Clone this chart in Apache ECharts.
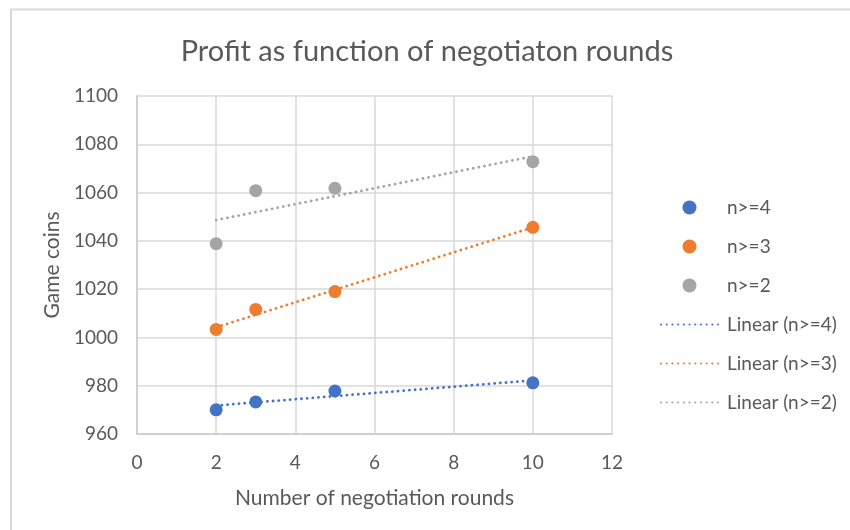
<!DOCTYPE html>
<html>
<head>
<meta charset="utf-8">
<script src="https://cdn.jsdelivr.net/npm/echarts@6/dist/echarts.min.js"></script>
<style>
  html, body { margin: 0; padding: 0; background: #fff; }
  #chart { width: 850px; height: 530px; }
</style>
</head>
<body>
<div id="chart"></div>
<script>
// rounds on x, game coins on y
const rounds = [2, 3, 5, 10]
const coinsN4 = [970, 973.3, 977.8, 981.2]
const coinsN3 = [1003.3, 1011.6, 1019, 1045.6]
const coinsN2 = [1038.8, 1060.8, 1061.8, 1072.8]

// trendline ends (x = 2 and x = 10)
const trendX = [2, 10]
const trendN4 = [971.8, 982.2]
const trendN3 = [1004.2, 1045.6]
const trendN2 = [1048.6, 1075]

const names = ['n>=4', 'n>=3', 'n>=2']
const colors = ['#4472C4', '#ED7D31', '#A5A5A5']

const textColor = '#595959'
const font = 'Lato, "Open Sans", sans-serif'

function pairs(xs, ys) {
  return xs.map((x, i) => [x, ys[i]])
}

const pointSets = [coinsN4, coinsN3, coinsN2]
const trendSets = [trendN4, trendN3, trendN2]

const series = []
pointSets.forEach((ys, i) => {
  series.push({
    name: names[i],
    type: 'scatter',
    symbolSize: 13,
    itemStyle: { color: colors[i], opacity: 1 },
    data: pairs(rounds, ys),
    z: 3
  })
})
trendSets.forEach((ys, i) => {
  series.push({
    name: 'Linear (' + names[i] + ')',
    type: 'line',
    symbol: 'none',
    silent: true,
    itemStyle: { color: colors[i], opacity: 0 },
    // round dots like the excel "round dot" dash
    lineStyle: { color: colors[i], width: 2.8, type: [0.1, 5.6], cap: 'round' },
    data: pairs(trendX, ys),
    z: 2
  })
})

const options = {
  animation: false,
  title: {
    text: 'Profit as function of negotiaton rounds',
    left: 422,
    textAlign: 'center',
    top: 32,
    textStyle: { color: textColor, fontSize: 29, fontWeight: 'normal', fontFamily: font }
  },
  graphic: [{
    type: 'rect',
    shape: { x: 11, y: 9.5, width: 1000, height: 1000 },
    style: { fill: 'none', stroke: '#d9d9d9', lineWidth: 2 },
    silent: true
  }],
  legend: {
    orient: 'vertical',
    left: 655,
    top: 193,
    itemWidth: 57,
    itemHeight: 14,
    itemGap: 20,
    textStyle: { color: textColor, fontSize: 19, fontFamily: font, padding: [0, 0, 0, 4] },
    data: ['n>=4', 'n>=3', 'n>=2', 'Linear (n>=4)', 'Linear (n>=3)', 'Linear (n>=2)']
  },
  grid: { left: 137, right: 238, top: 96, bottom: 96 },
  xAxis: {
    type: 'value',
    min: 0,
    max: 12,
    interval: 2,
    name: 'Number of negotiation rounds',
    nameLocation: 'middle',
    nameGap: 54,
    nameTextStyle: { color: textColor, fontSize: 21, fontFamily: font },
    axisLine: { show: true, lineStyle: { color: '#d0d0d0', width: 2 } },
    axisTick: { show: false },
    axisLabel: { color: textColor, fontSize: 19, fontFamily: font, margin: 19 },
    splitLine: { show: true, lineStyle: { color: '#d9d9d9', width: 1.5 } }
  },
  yAxis: {
    type: 'value',
    min: 960,
    max: 1100,
    interval: 20,
    name: 'Game coins',
    nameLocation: 'middle',
    nameGap: 70,
    nameTextStyle: { color: textColor, fontSize: 21, fontFamily: font },
    axisLine: { show: true, lineStyle: { color: '#d0d0d0', width: 2 } },
    axisTick: { show: false },
    axisLabel: {
      color: textColor, fontSize: 19, fontFamily: font, margin: 19,
      formatter: (v) => String(v)
    },
    splitLine: { show: true, lineStyle: { color: '#d9d9d9', width: 1.5 } }
  },
  series: series
}

const chart = echarts.init(document.getElementById('chart'))
chart.setOption(options)
</script>
</body>
</html>
